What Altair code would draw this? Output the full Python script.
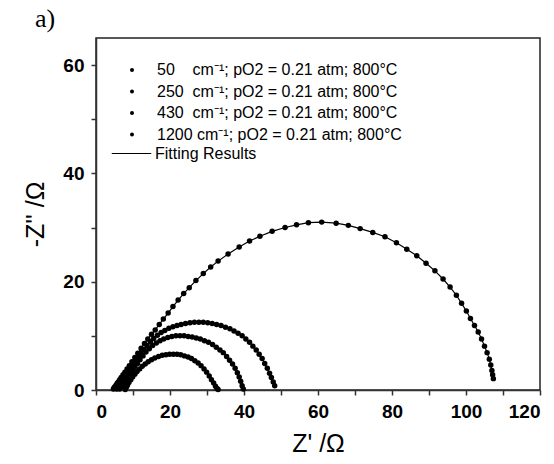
import altair as alt
import pandas as pd

NB = "\u00a0"
labels = [
    "50" + NB * 4 + "cm\u207b\u00b9; pO2 = 0.21 atm; 800\u00b0C",
    "250" + NB * 2 + "cm\u207b\u00b9; pO2 = 0.21 atm; 800\u00b0C",
    "430" + NB * 2 + "cm\u207b\u00b9; pO2 = 0.21 atm; 800\u00b0C",
    "1200" + NB + "cm\u207b\u00b9; pO2 = 0.21 atm; 800\u00b0C",
]
fit_label = "Fitting Results"

x50 = [4.7, 4.9, 5.1, 5.4, 5.7, 6.0, 6.4, 6.8, 7.3, 7.8, 8.4, 9.0, 9.7, 10.5, 11.3, 12.2,
       13.1, 14.0, 15.0, 16.0, 17.1, 18.2, 19.5, 20.8, 22.2, 23.7, 25.2, 27.0, 29.0, 31.0,
       33.0, 35.7, 38.7, 41.5, 44.3, 47.6, 51.1, 54.2, 57.4, 61.0, 64.9, 68.2, 71.4, 74.8,
       78.1, 81.2, 84.0, 86.7, 89.2, 91.6, 93.8, 95.7, 97.4, 98.8, 100.1, 101.2, 102.3,
       103.3, 104.2, 105.0, 105.7, 106.3, 106.7, 107.0, 107.2, 107.4]
y50 = [0.2, 0.4, 0.6, 0.9, 1.2, 1.5, 1.9, 2.3, 2.8, 3.3, 3.9, 4.5, 5.2, 6.0, 6.8, 7.7,
       8.6, 9.4, 10.3, 11.1, 12.1, 13.1, 14.2, 15.4, 16.6, 17.8, 18.9, 20.2, 21.5, 22.7,
       23.8, 25.1, 26.4, 27.5, 28.4, 29.3, 30.0, 30.5, 30.9, 31.0, 30.8, 30.4, 29.8, 29.1,
       28.3, 27.2, 26.0, 24.8, 23.4, 22.0, 20.5, 19.0, 17.5, 16.0, 14.6, 13.2, 11.9,
       10.7, 9.4, 8.1, 6.9, 5.7, 4.6, 3.6, 2.8, 2.1]

x250 = [5.6, 5.9, 6.2, 6.6, 7.0, 7.4, 7.9, 8.4, 8.9, 9.5, 10.1, 10.8, 11.5, 12.2, 13.0,
        13.8, 14.7, 15.6, 16.6, 17.6, 18.6, 19.7, 20.8, 21.9, 23.0, 24.2, 25.4, 26.6, 27.8,
        29.0, 30.2, 31.4, 32.6, 33.8, 35.0, 36.2, 37.3, 38.4, 39.5, 40.5, 41.5, 42.4, 43.3,
        44.1, 44.9, 45.6, 46.3, 46.9, 47.4, 47.9, 48.3]
y250 = [0.2, 0.5, 0.8, 1.2, 1.6, 2.0, 2.5, 3.0, 3.5, 4.1, 4.7, 5.4, 6.1, 6.8, 7.5,
        8.2, 8.9, 9.5, 10.1, 10.6, 11.0, 11.4, 11.7, 11.9, 12.1, 12.3, 12.4, 12.5, 12.5,
        12.5, 12.4, 12.3, 12.1, 11.9, 11.6, 11.3, 10.9, 10.5, 10.0, 9.4, 8.8, 8.1, 7.4,
        6.6, 5.8, 4.9, 4.0, 3.1, 2.3, 1.5, 0.8]

x430 = [6.4, 6.7, 7.0, 7.4, 7.8, 8.3, 8.8, 9.3, 9.9, 10.5, 11.2, 11.9, 12.7, 13.5, 14.4,
        15.3, 16.3, 17.3, 18.3, 19.4, 20.5, 21.6, 22.7, 23.8, 24.9, 26.0, 27.1, 28.2, 29.3,
        30.4, 31.5, 32.5, 33.5, 34.4, 35.3, 36.1, 36.9, 37.6, 38.2, 38.7, 39.1, 39.5, 39.8]
y430 = [0.2, 0.5, 0.8, 1.2, 1.6, 2.1, 2.6, 3.1, 3.7, 4.3, 4.9, 5.6, 6.3, 7.0, 7.6,
        8.2, 8.7, 9.1, 9.4, 9.7, 9.9, 10.0, 10.0, 10.0, 9.9, 9.8, 9.6, 9.4, 9.1,
        8.8, 8.4, 7.9, 7.4, 6.9, 6.2, 5.5, 4.8, 4.0, 3.2, 2.4, 1.6, 0.8, 0.2]

x1200 = [7.9, 8.2, 8.5, 8.9, 9.4, 9.9, 10.5, 11.1, 11.8, 12.5, 13.3, 14.1, 15.0, 15.9,
         16.9, 17.9, 18.9, 19.9, 20.9, 21.9, 22.9, 23.9, 24.9, 25.8, 26.7, 27.6, 28.4,
         29.2, 29.9, 30.6, 31.2, 31.8, 32.3, 32.7, 33.0]
y1200 = [0.1, 0.5, 0.9, 1.4, 1.9, 2.4, 2.9, 3.4, 3.9, 4.4, 4.8, 5.2, 5.6, 5.9,
         6.2, 6.4, 6.5, 6.6, 6.6, 6.6, 6.5, 6.3, 6.1, 5.8, 5.4, 5.0, 4.5,
         3.9, 3.3, 2.6, 1.9, 1.3, 0.7, 0.3, 0.1]

rows = []
for lab, xs, ys in zip(labels, [x50, x250, x430, x1200], [y50, y250, y430, y1200]):
    for i, (a, b) in enumerate(zip(xs, ys)):
        rows.append({"x": a, "y": b, "series": lab, "order": i, "fit": fit_label})
df = pd.DataFrame(rows)

x_ticks = list(range(0, 121, 10))
y_ticks = list(range(0, 61, 10))

xenc = alt.X("x:Q", scale=alt.Scale(domain=[0, 120], nice=False, zero=False),
             axis=alt.Axis(title="Z' /\u03a9", values=x_ticks,
                           labelExpr="datum.value % 20 == 0 ? datum.label : ''",
                           titlePadding=10))
yenc = alt.Y("y:Q", scale=alt.Scale(domain=[0, 65], nice=False, zero=False),
             axis=alt.Axis(title="-Z'' /\u03a9", values=y_ticks,
                           labelExpr="datum.value % 20 == 0 ? datum.label : ''",
                           titlePadding=14))

lines = alt.Chart(df).mark_line(strokeWidth=1.2).encode(
    x=xenc, y=yenc, detail="series:N", order="order:Q",
    color=alt.Color("fit:N", scale=alt.Scale(domain=[fit_label], range=["black"]),
                    legend=alt.Legend(title=None, orient="none", legendX=15, legendY=95,
                                      symbolType="stroke", symbolSize=1560,
                                      symbolStrokeWidth=1, labelOffset=3, padding=0)),
)

points = alt.Chart(df).mark_point(filled=True, size=30, opacity=1, color="black").encode(
    x=xenc, y=yenc,
    shape=alt.Shape("series:N", scale=alt.Scale(domain=labels, range=["circle"] * 4),
                    legend=alt.Legend(title=None, orient="none", legendX=28, legendY=24,
                                      symbolSize=16, symbolFillColor="black",
                                      symbolStrokeWidth=0, labelOffset=17,
                                      rowPadding=5.5, padding=0)),
)

chart = alt.layer(lines, points).properties(
    width=444, height=352,
    autosize=alt.AutoSizeParams(type="none"),
    padding={"left": 96, "top": 38, "right": 14, "bottom": 74},
    title=alt.TitleParams("a)", font="Liberation Serif", fontSize=26, fontWeight="normal",
                          anchor="start", frame="group", dx=-61, offset=6, color="black"),
).configure_view(
    stroke="#222", strokeWidth=1.5
).configure_axis(
    grid=False, domainColor="#333", domainWidth=1.5, tickColor="#333", tickWidth=1.5,
    tickSize=5, labelFont="Liberation Sans", labelFontWeight="bold", labelFontSize=19,
    labelColor="black", labelPadding=7, titleFont="Liberation Sans",
    titleFontWeight="normal", titleFontSize=25, titleColor="black",
).configure_legend(
    labelFont="Liberation Sans", labelFontSize=16, labelColor="black", labelLimit=400,
)

chart.save("out.html", embed_options={"renderer": "svg", "actions": False})
